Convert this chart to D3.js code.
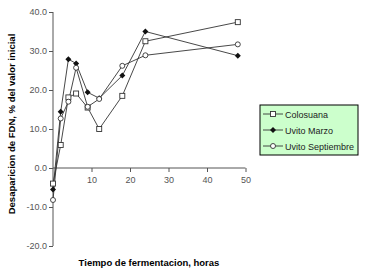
<!DOCTYPE html>
<html>
<head>
<meta charset="utf-8">
<script src="https://cdn.jsdelivr.net/npm/d3@7"></script>
<style>
body { margin: 0; background: #fff; }
text { font-family: Arial, "Liberation Sans", sans-serif; }
</style>
</head>
<body>
<div id="chart-area"></div>
<script>
// data
var hours = [0, 2, 4, 6, 9, 12, 18, 24, 48];
var colosuana = [-4.0, 5.9, 18.1, 19.1, 15.5, 10.0, 18.5, 32.5, 37.4];
var uvitoMarzo = [-5.5, 14.4, 27.9, 26.8, 19.4, 17.9, 23.7, 35.0, 28.8];
var uvitoSeptiembre = [-8.2, 12.7, 17.0, 25.7, 15.7, 17.7, 26.2, 28.9, 31.7];
var seriesNames = ["Colosuana", "Uvito Marzo", "Uvito Septiembre"];
var markers = ["square", "diamond", "circle"];
var xTicks = [10, 20, 30, 40, 50];
var yTicks = [-20, -10, 0, 10, 20, 30, 40];

var series = seriesNames.map(function(name, i) {
    var vals = [colosuana, uvitoMarzo, uvitoSeptiembre][i];
    return {name: name, marker: markers[i], values: hours.map((h, j) => ({x: h, y: vals[j]}))};
});

var svg = d3.select("#chart-area").append("svg")
    .attr("width", 368)
    .attr("height", 274);

var x = d3.scaleLinear().domain([0, 50]).range([53, 245.5]);
var y = d3.scaleLinear().domain([-20, 40]).range([246, 12]);

// y axis
var yAxis = d3.axisLeft(y).tickValues(yTicks).tickSize(4).tickFormat(d3.format(".1f"));
var gy = svg.append("g").attr("transform", "translate(53,0)").call(yAxis);
gy.select(".domain").attr("d", "M0," + y(-20) + "V" + y(40)).attr("stroke", "#555");
gy.selectAll(".tick line").attr("stroke", "#555");
gy.selectAll(".tick text").attr("font-size", 9).attr("fill", "#555").attr("x", -6)
    .text(d => d < 0 ? "-" + Math.abs(d).toFixed(1) : d.toFixed(1));

// x axis at zero
var xAxis = d3.axisBottom(x).tickValues(xTicks).tickSize(4).tickFormat(d3.format("d"));
var gx = svg.append("g").attr("transform", "translate(0," + y(0) + ")").call(xAxis);
gx.select(".domain").attr("d", "M" + x(0) + ",0H" + x(50)).attr("stroke", "#555");
gx.selectAll(".tick line").attr("stroke", "#555");
gx.selectAll(".tick text").attr("font-size", 9).attr("fill", "#555").attr("y", 9);

// titles
svg.append("text")
    .attr("transform", "translate(15,124) rotate(-90)")
    .attr("text-anchor", "middle")
    .attr("font-size", 9.5).attr("font-weight", "bold")
    .text("Desaparicion de FDN, % del valor inicial");

svg.append("text")
    .attr("x", 149).attr("y", 266)
    .attr("text-anchor", "middle")
    .attr("font-size", 9.5).attr("font-weight", "bold")
    .text("Tiempo de fermentacion, horas");

var line = d3.line().x(d => x(d.x)).y(d => y(d.y));

function drawMarker(g, type) {
    if (type === "square") {
        g.append("rect").attr("x", -2.5).attr("y", -2.5).attr("width", 5).attr("height", 5)
            .attr("fill", "#fff").attr("stroke", "#333").attr("stroke-width", 0.9);
    } else if (type === "diamond") {
        g.append("path").attr("d", "M0,-3L3,0L0,3L-3,0Z").attr("fill", "#111");
    } else {
        g.append("circle").attr("r", 2.5)
            .attr("fill", "#fff").attr("stroke", "#333").attr("stroke-width", 0.9);
    }
}

series.forEach(function(s) {
    svg.append("path")
        .datum(s.values)
        .attr("d", line)
        .attr("fill", "none")
        .attr("stroke", "#333")
        .attr("stroke-width", 0.9);
});
series.forEach(function(s) {
    s.values.forEach(function(d) {
        var g = svg.append("g").attr("transform", "translate(" + x(d.x) + "," + y(d.y) + ")");
        drawMarker(g, s.marker);
    });
});

// legend
var legend = svg.append("g").attr("transform", "translate(260,105)");
legend.append("rect").attr("width", 98).attr("height", 50)
    .attr("fill", "#ccffcc").attr("stroke", "#000").attr("stroke-width", 1);
series.forEach(function(s, i) {
    var ly = 9 + i * 16;
    legend.append("line").attr("x1", 3).attr("x2", 23).attr("y1", ly).attr("y2", ly)
        .attr("stroke", "#333").attr("stroke-width", 0.9);
    drawMarker(legend.append("g").attr("transform", "translate(13," + ly + ")"), s.marker);
    legend.append("text").attr("x", 25).attr("y", ly + 3.5)
        .attr("font-size", 9).attr("fill", "#222")
        .text(s.name);
});
</script>
</body>
</html>
